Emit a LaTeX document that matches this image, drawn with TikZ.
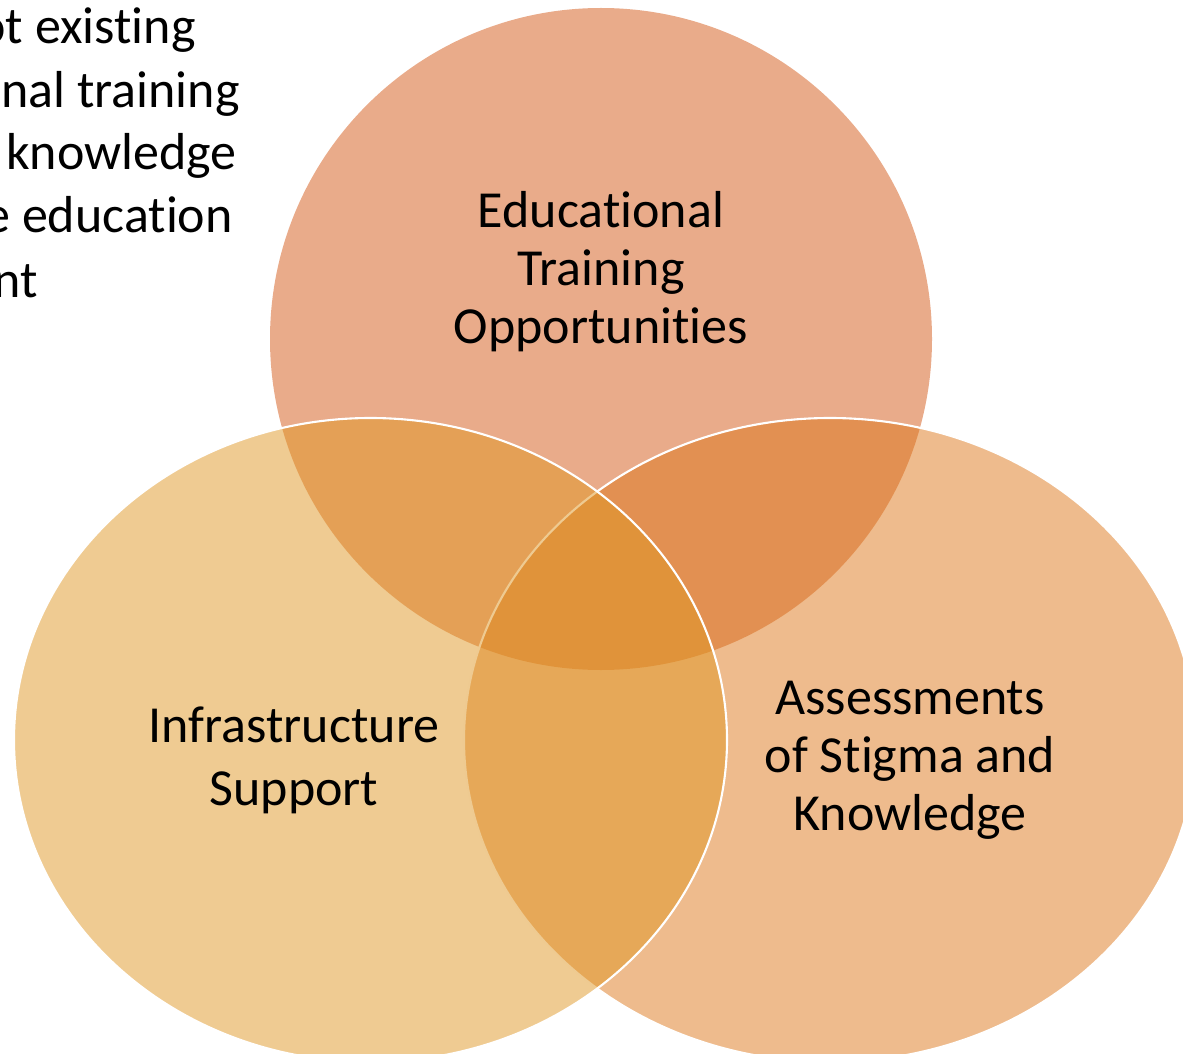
\documentclass[tikz,border=0pt]{standalone}
\usepackage{fontspec}
\setmainfont{Carlito}[Ligatures=NoCommon]

\definecolor{eduFill}{RGB}{211,87,21}
\definecolor{stigmaFill}{RGB}{221,119,27}
\definecolor{infraFill}{RGB}{223,151,37}

\begin{document}
\begin{tikzpicture}[x=0.02cm, y=-0.02cm,
    venn/.style={fill opacity=0.5},
    rim/.style={draw=white, line width=1.2pt},
    vlabel/.style={align=center, anchor=base, inner sep=0pt, font=\fontsize{29.6}{33}\selectfont},
    cutline/.style={anchor=base east, inner sep=0pt, font=\fontsize{29.6}{36}\selectfont}]
    \useasboundingbox (0, 0) rectangle (1183, 1054);

    % text running in from the left edge
    \node[cutline] (cuta) at (196, 44) {ot existing};
    \node[cutline] (cutb) at (240, 108) {nal training};
    \node[cutline] (cutc) at (237, 170) {knowledge};
    \node[cutline] (cutd) at (233, 233) {e education};
    \node[cutline] (cute) at (38, 297) {nt};

    % the three sets
    \fill[venn, eduFill] (601, 339) circle [radius=331];
    \fill[venn, stigmaFill] (830, 740) ellipse [x radius=366, y radius=322];
    \draw[rim] (830, 740) ellipse [x radius=366, y radius=322];
    \fill[venn, infraFill] (370.5, 740) ellipse [x radius=356.5, y radius=322];
    \draw[rim] (370.5, 740) ellipse [x radius=356.5, y radius=322];

    % labels, placed at the baseline of their last line
    \node[vlabel] (edu) at (601, 343) {Educational\\Training\\Opportunities};
    \node[vlabel, font=\fontsize{29.6}{35.3}\selectfont] (infra) at (294, 805) {Infrastructure\\Support};
    \node[vlabel] (assess) at (910, 830) {Assessments\\of Stigma and\\Knowledge};
\end{tikzpicture}
\end{document}
